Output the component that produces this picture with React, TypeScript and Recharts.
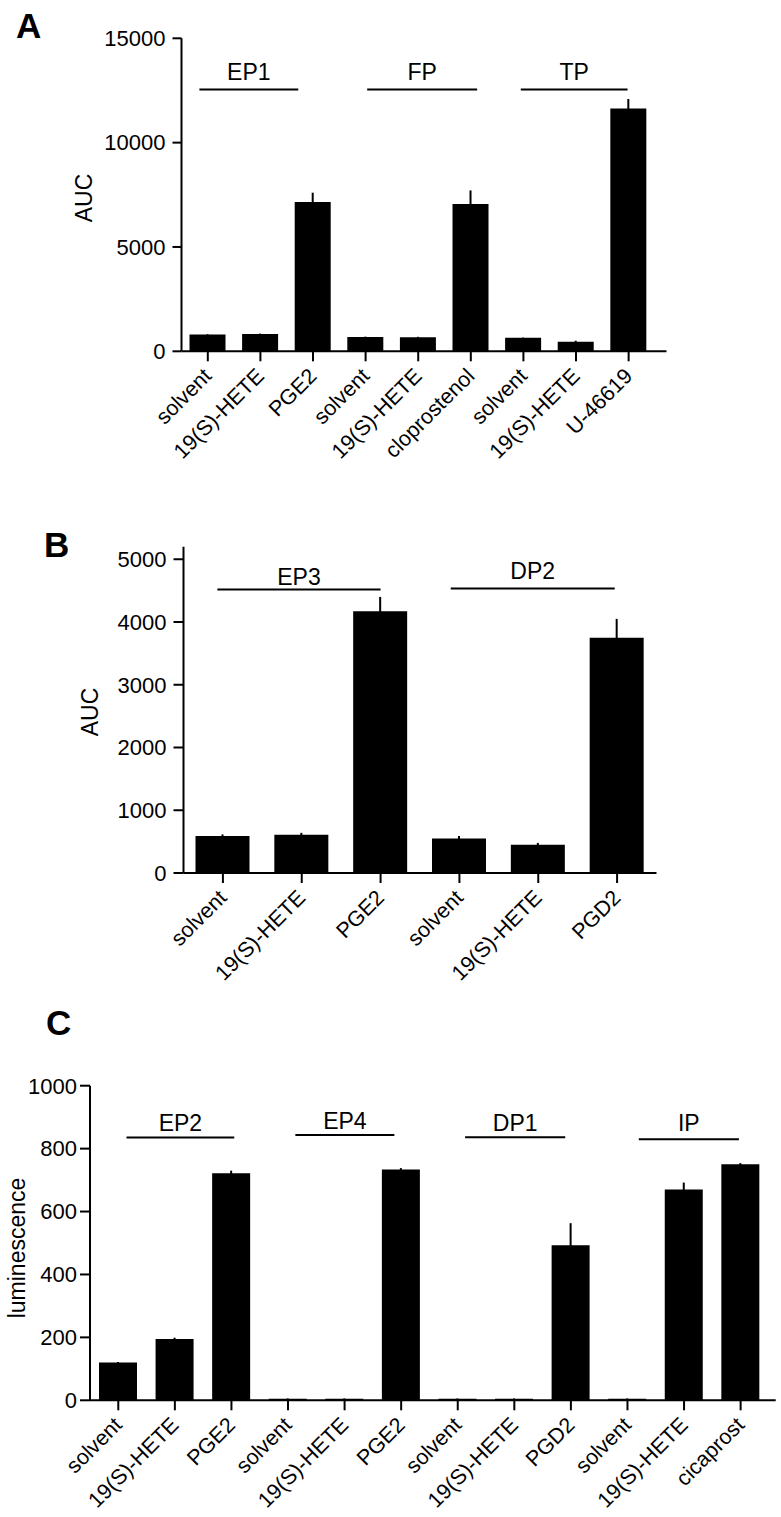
import React from 'react'
import { BarChart, Bar, XAxis, YAxis, ErrorBar, ReferenceLine, ReferenceDot } from 'recharts'

const FONT = '"Liberation Sans", Arial, Helvetica, sans-serif'

// panel A
const aCategories = ['solvent', '19(S)-HETE', 'PGE2', 'solvent', '19(S)-HETE', 'cloprostenol', 'solvent', '19(S)-HETE', 'U-46619']
const aValues = [800, 830, 7160, 685, 670, 7060, 655, 463, 11640]
const aErrors = [20, 20, 440, 18, 25, 650, 10, 45, 450]
const aTicks = [0, 5000, 10000, 15000]
const aGroupNames = ['EP1', 'FP', 'TP']
const aGroupFrom = [-0.16, 3.03, 5.95]
const aGroupTo = [1.72, 5.12, 7.98]
const aGroupLine = [12550, 12550, 12550]
const aGroupLabel = [13400, 13400, 13380]

// panel B
const bCategories = ['solvent', '19(S)-HETE', 'PGE2', 'solvent', '19(S)-HETE', 'PGD2']
const bValues = [590, 610, 4170, 550, 450, 3750]
const bErrors = [25, 30, 230, 40, 30, 300]
const bTicks = [0, 1000, 2000, 3000, 4000, 5000]
const bGroupNames = ['EP3', 'DP2']
const bGroupFrom = [-0.07, 2.89]
const bGroupTo = [2.0, 4.97]
const bGroupLine = [4517, 4535]
const bGroupLabel = [4720, 4820]

// panel C
const cCategories = ['solvent', '19(S)-HETE', 'PGE2', 'solvent', '19(S)-HETE', 'PGE2', 'solvent', '19(S)-HETE', 'PGD2', 'solvent', '19(S)-HETE', 'cicaprost']
const cValues = [120, 195, 722, 5, 5, 734, 5, 5, 493, 5, 670, 750]
const cErrors = [2, 4, 8, 1, 1, 4, 1, 1, 70, 1, 22, 4]
const cTicks = [0, 200, 400, 600, 800, 1000]
const cGroupNames = ['EP2', 'EP4', 'DP1', 'IP']
const cGroupFrom = [0.145, 3.13, 6.13, 9.2]
const cGroupTo = [2.05, 4.88, 7.9, 10.97]
const cGroupLine = [835, 843, 836, 830]
const cGroupLabel = [882, 888, 882, 882]

type Margin = { top: number; right: number; left: number; bottom: number }

type PanelProps = {
  categories: string[]
  values: number[]
  errors: number[]
  yTicks: number[]
  yMax: number
  groupNames: string[]
  groupFrom: number[]
  groupTo: number[]
  groupLine: number[]
  groupLabel: number[]
  top: number
  height: number
  margin: Margin
  xMax: number
  barSize: number
  yTickSize: number
  yTickMargin: number
}

const axisStroke = { stroke: '#000', strokeWidth: 2 }

function XTick(props: any) {
  const { x, y, payload, labels } = props
  return (
    <g transform={`translate(${x},${y})`}>
      <text
        x={5}
        y={16}
        transform="rotate(-45 5 16)"
        textAnchor="end"
        fontSize={21.5}
        fontFamily={FONT}
        fill="#000"
      >
        {labels[payload.value]}
      </text>
    </g>
  )
}

function Panel(p: PanelProps) {
  const data = p.categories.map((c, i) => ({ idx: i, label: c, value: p.values[i], err: p.errors[i] }))
  const idxTicks = p.categories.map((_, i) => i)
  return (
    <div style={{ position: 'absolute', left: 0, top: p.top }}>
      <BarChart width={781} height={p.height} data={data} margin={p.margin} style={{ overflow: 'visible' }}>
        <XAxis
          dataKey="idx"
          type="number"
          domain={[-0.5, p.xMax]}
          ticks={idxTicks}
          interval={0}
          height={100}
          tickSize={10}
          tickMargin={0}
          axisLine={axisStroke}
          tickLine={axisStroke}
          tick={(tp: any) => <XTick {...tp} labels={p.categories} />}
        />
        <XAxis
          xAxisId="top"
          orientation="top"
          dataKey="idx"
          type="number"
          domain={[-0.5, p.xMax]}
          height={0}
          tick={false}
          tickLine={false}
          axisLine={axisStroke}
        />
        <YAxis
          width={60}
          domain={[0, p.yMax]}
          ticks={p.yTicks}
          interval={0}
          tickSize={p.yTickSize}
          tickMargin={p.yTickMargin}
          axisLine={axisStroke}
          tickLine={axisStroke}
          tick={{ fontSize: 22, fill: '#000', fontFamily: FONT }}
        />
        <YAxis
          yAxisId="right"
          orientation="right"
          width={0}
          domain={[0, p.yMax]}
          tick={false}
          tickLine={false}
          axisLine={axisStroke}
        />
        <Bar dataKey="value" fill="#000" barSize={p.barSize} isAnimationActive={false}>
          <ErrorBar dataKey="err" direction="y" width={0} stroke="#000" strokeWidth={2} isAnimationActive={false} />
        </Bar>
        {p.groupNames.map((g, i) => (
          <ReferenceLine
            key={`line-${g}`}
            segment={[{ x: p.groupFrom[i], y: p.groupLine[i] }, { x: p.groupTo[i], y: p.groupLine[i] }]}
            stroke="#000"
            strokeWidth={2}
            ifOverflow="visible"
          />
        ))}
        {p.groupNames.map((g, i) => (
          <ReferenceDot
            key={`label-${g}`}
            x={(p.groupFrom[i] + p.groupTo[i]) / 2}
            y={p.groupLabel[i]}
            r={0}
            fill="none"
            stroke="none"
            ifOverflow="visible"
            label={{ value: g, position: 'center', fontSize: 23, fill: '#000', fontFamily: FONT }}
          />
        ))}
      </BarChart>
    </div>
  )
}

export default function App() {
  return (
    <div style={{ position: 'absolute', left: 0, top: 0, width: 781, height: 1517, background: '#fff' }}>
      <Panel
        categories={aCategories}
        values={aValues}
        errors={aErrors}
        yTicks={aTicks}
        yMax={15000}
        groupNames={aGroupNames}
        groupFrom={aGroupFrom}
        groupTo={aGroupTo}
        groupLine={aGroupLine}
        groupLabel={aGroupLabel}
        top={0}
        height={490}
        margin={{ top: 38.3, right: 114.5, left: 121.5, bottom: 38.7 }}
        xMax={8.72}
        barSize={36}
        yTickSize={9}
        yTickMargin={7}
      />
      <Panel
        categories={bCategories}
        values={bValues}
        errors={bErrors}
        yTicks={bTicks}
        yMax={5200}
        groupNames={bGroupNames}
        groupFrom={bGroupFrom}
        groupTo={bGroupTo}
        groupLine={bGroupLine}
        groupLabel={bGroupLabel}
        top={460}
        height={540}
        margin={{ top: 86.7, right: 124.5, left: 123.5, bottom: 27 }}
        xMax={5.5}
        barSize={54}
        yTickSize={10}
        yTickMargin={7}
      />
      <Panel
        categories={cCategories}
        values={cValues}
        errors={cErrors}
        yTicks={cTicks}
        yMax={1000}
        groupNames={cGroupNames}
        groupFrom={cGroupFrom}
        groupTo={cGroupTo}
        groupLine={cGroupLine}
        groupLabel={cGroupLabel}
        top={1000}
        height={517}
        margin={{ top: 85.7, right: 5.3, left: 30, bottom: 16.7 }}
        xMax={11.62}
        barSize={38}
        yTickSize={10}
        yTickMargin={3}
      />
      <svg width={781} height={1517} style={{ position: 'absolute', left: 0, top: 0, pointerEvents: 'none' }}>
        <g fontFamily={FONT} fill="#000">
          <text x={16} y={38} fontSize={35} fontWeight="bold">A</text>
          <text x={44} y={557} fontSize={35} fontWeight="bold">B</text>
          <text x={46} y={1035} fontSize={35} fontWeight="bold">C</text>
          <text x={92} y={198} fontSize={23} textAnchor="middle" transform="rotate(-90 92 198)">AUC</text>
          <text x={98} y={712} fontSize={23} textAnchor="middle" transform="rotate(-90 98 712)">AUC</text>
          <text x={25} y={1248} fontSize={23} textAnchor="middle" transform="rotate(-90 25 1248)">luminescence</text>
        </g>
      </svg>
    </div>
  )
}
